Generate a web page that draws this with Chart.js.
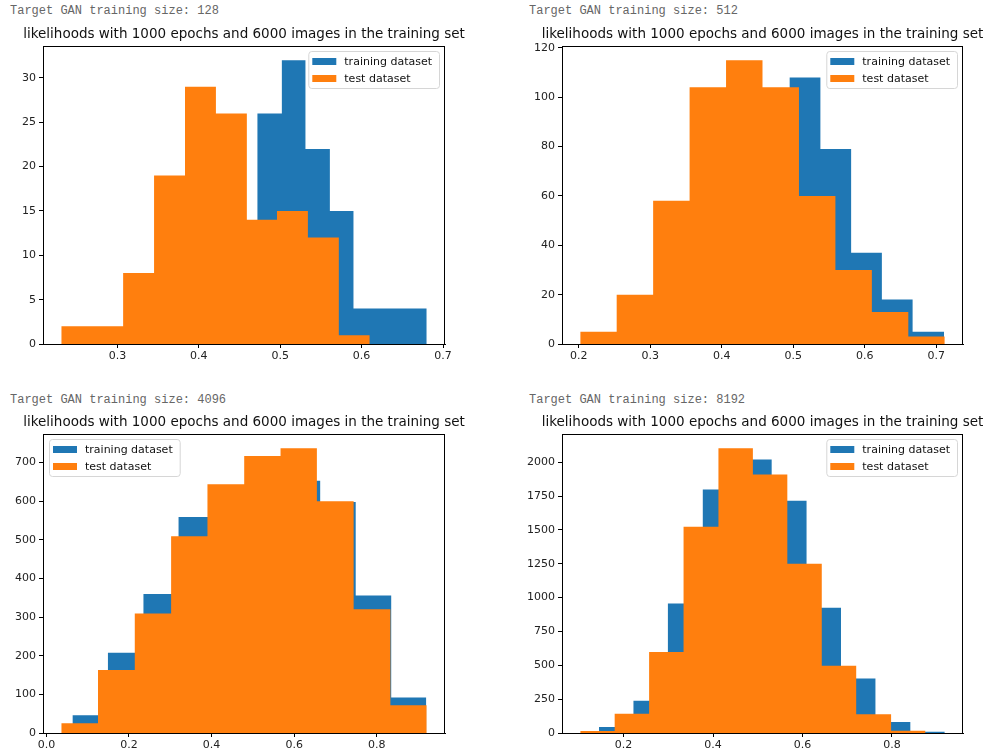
<!DOCTYPE html>
<html>
<head>
<meta charset="utf-8">
<script src="https://cdn.jsdelivr.net/npm/chart.js@4.4.0/dist/chart.umd.min.js"></script>
<style>
	body { margin: 0; background: #fff; width: 986px; height: 753px; position: relative; overflow: hidden; }
	.note { position: absolute; font: 12px "Liberation Mono", monospace; color: #666; white-space: pre; }
	canvas { position: absolute; }
</style>
</head>
<body>
<div class="note" style="left:10px;top:4px">Target GAN training size: 128</div>
<div class="note" style="left:529px;top:4px">Target GAN training size: 512</div>
<div class="note" style="left:10px;top:393px">Target GAN training size: 4096</div>
<div class="note" style="left:529px;top:393px">Target GAN training size: 8192</div>

<canvas id="c128" width="490" height="337" style="left:0;top:25px"></canvas>
<canvas id="c512" width="496" height="337" style="left:490px;top:25px"></canvas>
<canvas id="c4096" width="490" height="338" style="left:0;top:413px"></canvas>
<canvas id="c8192" width="496" height="338" style="left:490px;top:413px"></canvas>

<script>
const titleText = 'likelihoods with 1000 epochs and 6000 images in the training set';
const seriesLabels = ['training dataset', 'test dataset'];

// size 128
const trainEdges128 = [0.383, 0.413, 0.442, 0.472, 0.502, 0.531, 0.561, 0.590, 0.620, 0.650, 0.680];
const trainCounts128 = [5, 7, 9, 26, 32, 22, 15, 4, 4, 4];
const testEdges128 = [0.231, 0.269, 0.307, 0.345, 0.383, 0.421, 0.459, 0.496, 0.534, 0.572, 0.610];
const testCounts128 = [2, 2, 8, 19, 29, 26, 14, 15, 12, 1];
const xTicks128 = [0.3, 0.4, 0.5, 0.6, 0.7];
const yTicks128 = [0, 5, 10, 15, 20, 25, 30];

// size 512
const trainEdges512 = [0.278, 0.322, 0.365, 0.408, 0.451, 0.495, 0.538, 0.581, 0.624, 0.667, 0.711];
const trainCounts512 = [10, 40, 70, 75, 70, 108, 79, 37, 18, 5];
const testEdges512 = [0.202, 0.253, 0.304, 0.355, 0.406, 0.457, 0.508, 0.559, 0.610, 0.661, 0.712];
const testCounts512 = [5, 20, 58, 104, 115, 104, 60, 30, 13, 3];
const xTicks512 = [0.2, 0.3, 0.4, 0.5, 0.6, 0.7];
const yTicks512 = [0, 20, 40, 60, 80, 100, 120];

// size 4096
const trainEdges4096 = [0.063, 0.149, 0.235, 0.320, 0.406, 0.492, 0.577, 0.663, 0.749, 0.835, 0.920];
const trainCounts4096 = [46, 208, 360, 559, 605, 619, 653, 598, 356, 92];
const testEdges4096 = [0.036, 0.125, 0.214, 0.302, 0.390, 0.479, 0.567, 0.655, 0.744, 0.833, 0.921];
const testCounts4096 = [25, 163, 309, 509, 644, 717, 737, 600, 320, 72];
const xTicks4096 = [0.0, 0.2, 0.4, 0.6, 0.8];
const yTicks4096 = [0, 100, 200, 300, 400, 500, 600, 700];

// size 8192
const trainEdges8192 = [0.145, 0.222, 0.299, 0.377, 0.454, 0.531, 0.609, 0.686, 0.763, 0.841, 0.918];
const trainCounts8192 = [45, 239, 957, 1798, 2020, 1715, 925, 403, 81, 9];
const testEdges8192 = [0.103, 0.180, 0.257, 0.334, 0.412, 0.489, 0.566, 0.643, 0.720, 0.798, 0.875];
const testCounts8192 = [14, 143, 598, 1523, 2103, 1909, 1250, 497, 138, 17];
const xTicks8192 = [0.2, 0.4, 0.6, 0.8];
const yTicks8192 = [0, 250, 500, 750, 1000, 1250, 1500, 1750, 2000];

const BLUE = '#1f77b4';
const ORANGE = '#ff7f0e';
const FONT = 'DejaVu Sans';

// histogram outline as step points: each bin's count held until the next edge
function steps(edges, counts) {
	const pts = counts.map((c, i) => ({ x: edges[i], y: c }));
	pts.push({ x: edges[edges.length - 1], y: 0 });
	return pts;
}

// title, frame and legend box drawn around/inside the plot area, like matplotlib
// (title done here because chart.js squeezes a title wider than the plot area)
const framePlugin = {
	id: 'frame',
	afterDatasetsDraw(chart, args, opts) {
		const { ctx, chartArea: a } = chart;
		ctx.save();
		ctx.strokeStyle = '#000';
		ctx.lineWidth = 1;
		ctx.strokeRect(Math.round(a.left) + 0.5, Math.round(a.top) + 0.5, Math.round(a.right - a.left) - 1, Math.round(a.bottom - a.top));

		ctx.font = '13.5px ' + FONT;
		ctx.fillStyle = '#111';
		ctx.textAlign = 'center';
		ctx.textBaseline = 'middle';
		ctx.fillText(titleText, (a.left + a.right) / 2, a.top - 12);

		ctx.font = '11px ' + FONT;
		ctx.textAlign = 'left';
		const tw = Math.max(...seriesLabels.map(t => ctx.measureText(t).width));
		const w = 4 + 24 + 8 + tw + 7, h = 37;
		const x = opts.side === 'left' ? a.left + 6 : a.right - 6 - w;
		const y = a.top + 5;
		ctx.fillStyle = 'rgba(255,255,255,0.8)';
		ctx.strokeStyle = '#d6d6d6';
		ctx.beginPath();
		ctx.roundRect(x + 0.5, y + 0.5, w, h, 3);
		ctx.fill();
		ctx.stroke();
		[BLUE, ORANGE].forEach((c, i) => {
			const ry = y + 10 + i * 17;
			ctx.fillStyle = c;
			ctx.fillRect(x + 4, ry - 3, 24, 7);
			ctx.fillStyle = '#111';
			ctx.fillText(seriesLabels[i], x + 36, ry + 1);
		});
		ctx.restore();
	}
};

function makeHist(id, trainEdges, trainCounts, testEdges, testCounts, xTicks, yTicks, o) {
	const allEdges = trainEdges.concat(testEdges);
	const lo = Math.min(...allEdges), hi = Math.max(...allEdges);
	const pad = (hi - lo) * 0.05;
	const top = Math.max(...trainCounts, ...testCounts) * 1.05;
	const tickFont = { family: FONT, size: 11 };

	return new Chart(document.getElementById(id), {
		type: 'line',
		data: {
			datasets: [
				// order 1 = painted first, so the test histogram sits on top
				{ label: seriesLabels[0], order: 1, data: steps(trainEdges, trainCounts), stepped: 'before', fill: 'origin', backgroundColor: BLUE, borderWidth: 0, pointRadius: 0 },
				{ label: seriesLabels[1], order: 0, data: steps(testEdges, testCounts), stepped: 'before', fill: 'origin', backgroundColor: ORANGE, borderWidth: 0, pointRadius: 0 }
			]
		},
		options: {
			responsive: false,
			animation: false,
			layout: { padding: { left: 0, right: o.padRight, top: 21, bottom: 0 } },
			plugins: {
				legend: { display: false },
				tooltip: { enabled: false },
				title: { display: false },
				frame: { side: o.legendSide }
			},
			scales: {
				x: {
					type: 'linear', min: lo - pad, max: hi + pad,
					afterBuildTicks: s => { s.ticks = xTicks.map(v => ({ value: v })); },
					afterFit: s => { s.height = 18; },
					ticks: { font: tickFont, color: '#222', padding: 2, maxRotation: 0, callback: v => v.toFixed(1) },
					grid: { drawOnChartArea: false, drawTicks: true, tickLength: 4, color: '#000' },
					border: { display: true, color: '#000' }
				},
				y: {
					type: 'linear', min: 0, max: top,
					afterBuildTicks: s => { s.ticks = yTicks.map(v => ({ value: v })); },
					afterFit: s => { s.width = o.yWidth; },
					ticks: { font: tickFont, color: '#222', padding: 3, callback: v => String(v) },
					grid: { drawOnChartArea: false, drawTicks: true, tickLength: 4, color: '#000' },
					border: { display: true, color: '#000' }
				}
			}
		},
		plugins: [framePlugin]
	});
}

makeHist('c128', trainEdges128, trainCounts128, testEdges128, testCounts128, xTicks128, yTicks128, { yWidth: 43, padRight: 45, legendSide: 'right' });
makeHist('c512', trainEdges512, trainCounts512, testEdges512, testCounts512, xTicks512, yTicks512, { yWidth: 72, padRight: 23, legendSide: 'right' });
makeHist('c4096', trainEdges4096, trainCounts4096, testEdges4096, testCounts4096, xTicks4096, yTicks4096, { yWidth: 43, padRight: 45, legendSide: 'left' });
makeHist('c8192', trainEdges8192, trainCounts8192, testEdges8192, testCounts8192, xTicks8192, yTicks8192, { yWidth: 72, padRight: 23, legendSide: 'right' });
</script>
</body>
</html>
